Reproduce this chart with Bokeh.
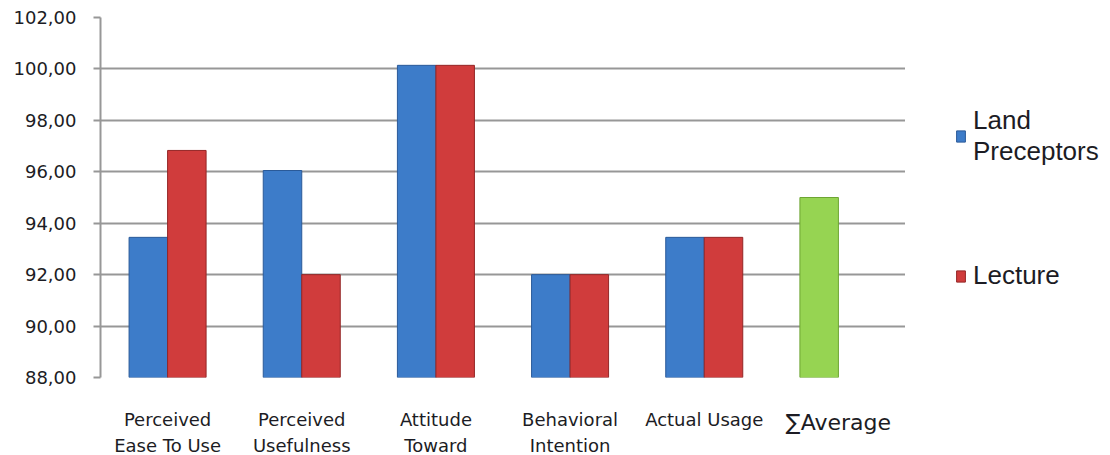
from bokeh.plotting import figure
from bokeh.layouts import row, column
from bokeh.models import (ColumnDataSource, FactorRange, FixedTicker, Legend, LegendItem,
                          CustomJSTickFormatter, Range1d)
from bokeh.core.properties import value
from bokeh.transform import dodge
from bokeh.embed import file_html
from bokeh.resources import INLINE

# ---- data ----
categories = ["Perceived Ease To Use", "Perceived Usefulness", "Attitude Toward",
              "Behavioral Intention", "Actual Usage", "∑Average"]
label_line1 = ["Perceived", "Perceived", "Attitude", "Behavioral", "Actual Usage"]
label_line2 = ["Ease To Use", "Usefulness", "Toward", "Intention", ""]
group_cats = categories[:5]
land_preceptors = [93.45, 96.05, 100.14, 92.00, 93.45]
lecture = [96.83, 92.00, 100.14, 92.00, 93.45]
avg_cat = categories[5:]
avg_value = [95.00]
y_ticks = [88, 90, 92, 94, 96, 98, 100, 102]

BLUE, BLUE_EDGE = "#3d7cc9", "#2a5a99"
RED, RED_EDGE = "#d03c3c", "#942626"
GREEN, GREEN_EDGE = "#96d452", "#6da532"
GRID = "#979797"
TXT = "#1c1c24"

src = ColumnDataSource(dict(cat=group_cats, lp=land_preceptors, lec=lecture,
                            l1=label_line1, l2=label_line2))
src_avg = ColumnDataSource(dict(cat=avg_cat, val=avg_value))

xr = FactorRange(*categories)
p = figure(width=905, height=391, x_range=xr,
           y_range=(88, 102), output_backend="svg", toolbar_location=None,
           min_border_left=100, min_border_top=17, min_border_bottom=14,
           min_border_right=0)

bw = 0.287


def add_bars(fig):
    a = fig.vbar(x=dodge("cat", -bw / 2, range=xr), top="lp", bottom=88, width=bw,
                 source=src, fill_color=BLUE, line_color=BLUE_EDGE, line_width=1)
    b = fig.vbar(x=dodge("cat", bw / 2, range=xr), top="lec", bottom=88, width=bw,
                 source=src, fill_color=RED, line_color=RED_EDGE, line_width=1)
    return a, b


add_bars(p)
p.vbar(x=dodge("cat", -bw / 2, range=xr), top="val", bottom=88, width=bw,
       source=src_avg, fill_color=GREEN, line_color=GREEN_EDGE, line_width=1)

p.outline_line_color = None
p.xgrid.grid_line_color = None
p.ygrid.grid_line_color = GRID
p.ygrid.grid_line_width = 2
p.ygrid.level = "underlay"
p.xaxis.visible = False

p.yaxis.ticker = FixedTicker(ticks=y_ticks)
p.yaxis.formatter = CustomJSTickFormatter(code="return tick.toFixed(2).replace('.', ',');")
p.yaxis.axis_line_color = GRID
p.yaxis.axis_line_width = 2
p.yaxis.major_tick_line_color = GRID
p.yaxis.major_tick_line_width = 2
p.yaxis.major_tick_out = 7
p.yaxis.major_tick_in = 0
p.yaxis.minor_tick_line_color = None
p.yaxis.major_label_text_font = "DejaVu Sans"
p.yaxis.major_label_text_font_size = "18px"
p.yaxis.major_label_text_color = TXT
p.yaxis.major_label_standoff = 17

# ---- category labels strip below the plot (shares the x scale) ----
lab = figure(width=905, height=64, x_range=xr, y_range=Range1d(0, 64),
             output_backend="svg", toolbar_location=None,
             min_border_left=100, min_border_right=0, min_border_top=0, min_border_bottom=0)
lab.axis.visible = False
lab.grid.visible = False
lab.outline_line_color = None
lab.text(x="cat", y=36, text="l1", source=src, text_align="center",
         text_baseline="alphabetic", text_font=value("DejaVu Sans"),
         text_font_size="18px", text_color=TXT)
lab.text(x="cat", y=10, text="l2", source=src, text_align="center",
         text_baseline="alphabetic", text_font=value("DejaVu Sans"),
         text_font_size="18px", text_color=TXT)
lab.text(x="cat", y=33, text="cat", source=src_avg, text_align="center",
         text_baseline="alphabetic", text_font=value("DejaVu Sans"),
         text_font_size="22px", text_color=TXT)

# ---- legend panel to the right of the plot area ----
leg = figure(width=205, height=455, x_range=xr, y_range=Range1d(0, 1),
             output_backend="svg", toolbar_location=None,
             min_border_left=0, min_border_right=0, min_border_top=0, min_border_bottom=0)
leg.axis.visible = False
leg.grid.visible = False
leg.outline_line_color = None
l_lp, l_lec = add_bars(leg)
l_lp.visible = False
l_lec.visible = False

legend = Legend(items=[LegendItem(label="Land\nPreceptors", renderers=[l_lp]),
                       LegendItem(label="Lecture", renderers=[l_lec])],
                location=(50, 164))
legend.border_line_color = None
legend.background_fill_alpha = 0
legend.label_text_font = "Liberation Sans"
legend.label_text_font_size = "26px"
legend.label_text_color = TXT
legend.glyph_width = 11
legend.glyph_height = 14
legend.spacing = 93
legend.margin = 0
legend.padding = 0
legend.label_standoff = 7
leg.add_layout(legend, "center")

layout = row(column(p, lab), leg)
open("out.html", "w").write(file_html(layout, INLINE))
